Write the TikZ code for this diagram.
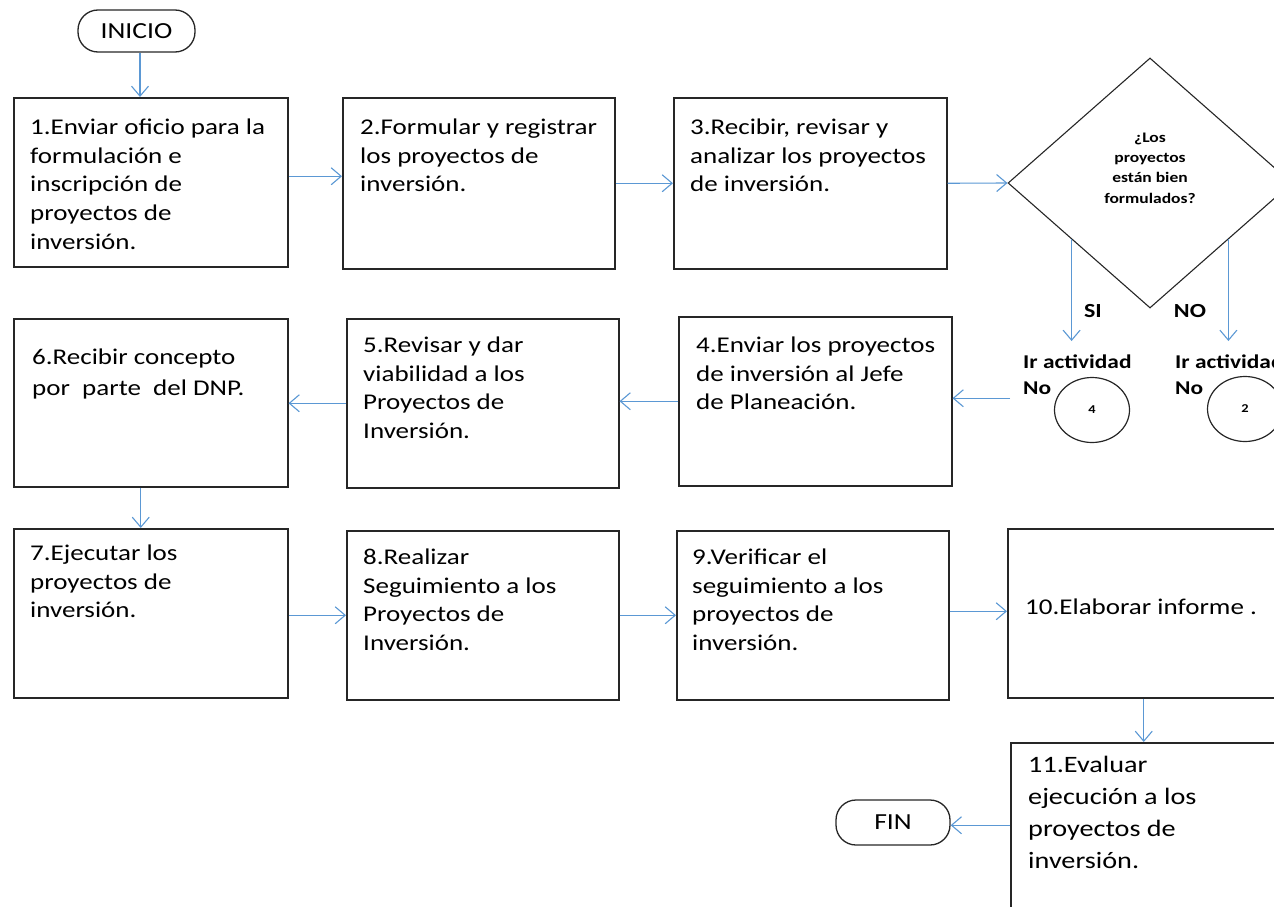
\documentclass[tikz,border=0pt]{standalone}
\usepackage{fontspec}
\setmainfont{Carlito}[FakeStretch=1.2]
\usetikzlibrary{calc,shapes.geometric,arrows.meta}

\definecolor{azulflecha}{RGB}{91,152,212}
\def\alto{\rule{0pt}{20pt}}

\tikzset{
  paso/.style={draw=black!85, line width=1.5pt, anchor=north west, minimum width=272pt, minimum height=169pt, inner sep=0pt},
  texto/.style={anchor=north west, align=left, inner sep=0pt, font=\fontsize{22.5}{28.8}\selectfont},
  terminal/.style={draw=black!85, line width=1.3pt, rounded corners=20pt, minimum width=117pt, minimum height=42pt, inner sep=0pt, font=\fontsize{23}{27}\selectfont},
  decision/.style={diamond, draw=black!85, line width=1.1pt, minimum width=284pt, minimum height=250pt, inner sep=0pt},
  pregunta/.style={align=center, inner sep=0pt, font=\fontsize{14.6}{20.3}\selectfont\bfseries},
  etiqueta/.style={inner sep=0pt, font=\fontsize{20}{24}\selectfont\bfseries},
  irnodo/.style={anchor=north west, align=left, inner xsep=13pt, inner ysep=0pt, font=\fontsize{19.5}{26}\selectfont\bfseries},
  conector/.style={ellipse, draw=black!85, line width=1.2pt, minimum width=75pt, minimum height=65pt, inner sep=0pt, font=\fontsize{12}{14}\selectfont\bfseries},
  flecha/.style={draw=azulflecha, line width=1.1pt, -{Straight Barb[length=10pt, width=17pt, line width=1.1pt]}}
}

\begin{document}
\begin{tikzpicture}[x=1pt, y=-1pt]
  \useasboundingbox (0,0) rectangle (1274,907);
  \clip (0,0) rectangle (1274,907);

  %%%%% TERMINALES %%%%%
  \node[terminal] (inicio) at (136.5,31) {INICIO};
  \node[terminal, minimum width=114pt, minimum height=45pt] (fin) at (893,822.5) {FIN};

  %%%%% PRIMERA FILA %%%%%
  \node[paso, minimum width=274pt] (b1) at (13,97) {};
  \node[paso, minimum height=171pt] (b2) at (342,97) {};
  \node[paso, minimum width=273pt, minimum height=171pt] (b3) at (673,97) {};
  \node[decision] (dec) at (1150,183) {};

  \node[texto] (t1) at (30,114) {\alto 1.Enviar oficio para la\\formulación e\\inscripción de\\proyectos de\\inversión.};
  \node[texto] (t2) at (360,114) {\alto 2.Formular y registrar\\los proyectos de\\inversión.};
  \node[texto] (t3) at (690,114) {\alto 3.Recibir, revisar y\\analizar los proyectos\\de inversión.};
  \node[pregunta] (preg) at (1150,168) {¿Los\\proyectos\\están bien\\formulados?};

  \node[etiqueta] (si) at (1093,311) {SI};
  \node[etiqueta] (no) at (1190,311) {NO};
  \node[irnodo] (ir4) at (1010,350) {\rule{0pt}{18pt}Ir actividad\\No};
  \node[irnodo] (ir2) at (1162,350) {\rule{0pt}{18pt}Ir actividad\\No};
  \node[conector] (c4) at (1092,410) {4};
  \node[conector] (c2) at (1245,409) {2};

  %%%%% SEGUNDA FILA %%%%%
  \node[paso, minimum width=273pt] (b4) at (678,316) {};
  \node[paso] (b5) at (346,318) {};
  \node[paso, minimum width=274pt, minimum height=168pt] (b6) at (13,318) {};

  \node[texto] (t4) at (696,332) {\alto 4.Enviar los proyectos\\de inversión al Jefe\\de Planeación.};
  \node[texto] (t5) at (363,332) {\alto 5.Revisar y dar\\viabilidad a los\\Proyectos de\\Inversión.};
  \node[texto, font=\fontsize{22.5}{31}\selectfont] (t6) at (32,344) {\alto 6.Recibir concepto\\por~ parte~ del DNP.};

  %%%%% TERCERA FILA %%%%%
  \node[paso, minimum width=274pt] (b7) at (13,528) {};
  \node[paso] (b8) at (346,530) {};
  \node[paso] (b9) at (676,530) {};
  \node[paso] (b10) at (1007,528) {};
  \node[paso] (b11) at (1010,742) {};

  \node[texto] (t7) at (30,540) {\alto 7.Ejecutar los\\proyectos de\\inversión.};
  \node[texto] (t8) at (363,544) {\alto 8.Realizar\\Seguimiento a los\\Proyectos de\\Inversión.};
  \node[texto] (t9) at (692,544) {\alto 9.Verificar el\\seguimiento a los\\proyectos de\\inversión.};
  \node[texto] (t10) at (1025,594) {\alto 10.Elaborar informe .};
  \node[texto, font=\fontsize{23.5}{32}\selectfont] (t11) at (1028,752) {\alto 11.Evaluar\\ejecución a los\\proyectos de\\inversión.};

  %%%%% FLECHAS %%%%%
  \draw[flecha] (inicio.south -| 140,0) -- (b1.north -| 140,0);
  \draw[flecha] ([yshift=6pt]b1.east) -- ([yshift=6pt]b1.east -| b2.west);
  \draw[flecha] (b2.east) -- (b2.east -| b3.west);
  \draw[flecha] (b3.east) -- (dec.west);

  \draw[flecha] ($(dec.west)!0.45!(dec.south)$) coordinate (sini) -- ([yshift=9pt]sini |- ir4.north);
  \draw[flecha] ($(dec.south)!0.55!(dec.east)$) coordinate (noini) -- ([yshift=9pt]noini |- ir2.north);
  \draw[flecha] ([yshift=3pt]b4.east -| ir4.west) -- ([yshift=3pt]b4.east);

  \draw[flecha] (b4.west) -- (b4.west -| b5.east);
  \draw[flecha] (b5.west) -- (b5.west -| b6.east);
  \draw[flecha] ([xshift=-10pt]b6.south) -- ([xshift=-10pt]b6.south |- b7.north);

  \draw[flecha] ([yshift=-2pt]b7.east) -- ([yshift=-2pt]b7.east -| b8.west);
  \draw[flecha] (b8.east) -- (b8.east -| b9.west);
  \draw[flecha] ([yshift=4pt]b9.east) -- ([yshift=4pt]b9.east -| b10.west);
  \draw[flecha] (b10.south) -- (b10.south |- b11.north);
  \draw[flecha] ([yshift=2pt]b11.west) -- ([yshift=2pt]b11.west -| fin.east);
\end{tikzpicture}
\end{document}
